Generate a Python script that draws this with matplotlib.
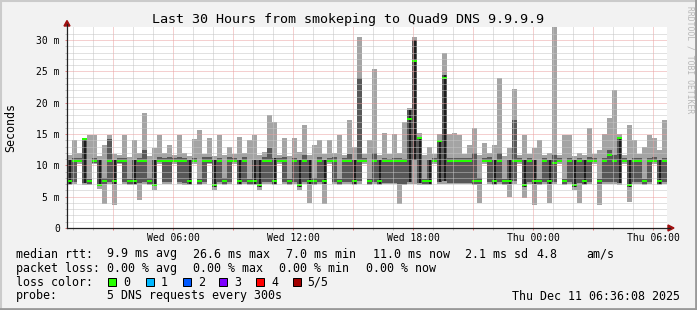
import numpy as np
import matplotlib
matplotlib.use("Agg")
import matplotlib.pyplot as plt
from matplotlib.patches import Rectangle, Polygon
from matplotlib.lines import Line2D

W, H = 697, 310
MONO = "DejaVu Sans Mono"

# time axis in hours since Wed 00:00, 15 min steps (30 h window)
t_start = 0.68
step_h = 0.25

# smoke: sorted dns rtt per step (ms)
ping_min = [6.9, 7.0, 10.2, 6.9, 6.9, 10.2, 6.2, 3.8, 7.0, 3.7, 10.2, 7.0,
            6.9, 6.9, 4.5, 7.0, 6.9, 6.1, 10.2, 7.0, 7.0, 10.3, 7.0, 6.9,
            6.9, 10.2, 6.9, 7.0, 10.2, 6.1, 7.0, 6.9, 7.0, 10.2, 6.9, 7.0,
            6.9, 6.9, 6.1, 7.0, 7.0, 6.9, 10.2, 7.0, 6.9, 7.0, 6.0, 7.0,
            4.0, 6.9, 7.0, 3.8, 10.2, 7.0, 6.9, 7.0, 7.0, 6.9, 7.0, 10.2,
            6.9, 7.0, 6.9, 7.0, 7.0, 7.0, 3.8, 6.9, 7.0, 7.0, 6.9, 6.9,
            6.9, 10.2, 7.0, 7.0, 7.0, 7.0, 7.0, 7.0, 7.0, 6.9, 4.0, 10.2,
            7.0, 6.9, 7.0, 6.9, 5.0, 7.0, 10.2, 4.8, 7.0, 3.7, 6.9, 7.0,
            4.0, 7.0, 10.2, 6.9, 7.0, 6.0, 4.0, 6.9, 7.0, 10.2, 3.7, 7.0,
            7.0, 7.0, 6.9, 10.2, 4.2, 7.0, 7.0, 6.9, 7.0, 10.2, 6.9, 7.0]
ping_p2 = [7.0, 7.3, 10.5, 7.2, 7.0, 10.4, 6.7, 7.0, 7.3, 7.0, 10.4, 7.3,
           7.0, 7.0, 7.2, 7.4, 7.0, 6.7, 10.5, 7.3, 7.3, 10.5, 7.3, 7.2,
           7.0, 10.5, 7.0, 7.3, 10.4, 6.6, 7.3, 7.0, 7.3, 10.5, 7.0, 7.3,
           7.0, 7.0, 6.6, 7.3, 7.4, 7.0, 10.5, 7.3, 7.0, 7.3, 6.6, 7.4,
           7.0, 7.0, 7.3, 7.0, 10.5, 7.3, 7.0, 7.3, 7.4, 7.0, 7.5, 10.5,
           7.0, 7.4, 7.0, 7.2, 7.2, 7.2, 7.0, 7.0, 7.4, 10.8, 7.2, 7.0,
           7.0, 10.5, 7.3, 7.5, 7.2, 7.2, 7.2, 7.2, 7.2, 7.0, 7.0, 10.5,
           7.3, 7.0, 7.4, 7.0, 7.0, 7.5, 10.5, 6.6, 7.3, 7.0, 7.0, 7.3,
           7.0, 7.4, 10.5, 7.0, 7.3, 6.6, 7.2, 7.0, 7.3, 10.5, 7.0, 7.3,
           7.4, 7.4, 7.2, 10.5, 6.6, 7.3, 7.3, 7.0, 7.3, 10.5, 7.0, 7.3]
ping_med = [7.5, 10.7, 10.7, 14.2, 7.5, 10.7, 6.9, 7.5, 10.7, 7.5, 10.7, 10.7,
            7.5, 7.5, 10.7, 10.7, 7.5, 6.9, 10.7, 10.7, 10.7, 10.7, 10.7, 10.7,
            7.5, 10.7, 7.5, 10.7, 10.7, 6.9, 10.7, 7.5, 10.7, 10.7, 7.5, 10.7,
            7.5, 7.5, 6.9, 10.7, 10.7, 7.5, 10.7, 10.7, 7.5, 10.7, 6.9, 10.7,
            7.5, 7.5, 10.7, 7.5, 10.7, 10.7, 7.5, 10.7, 10.7, 7.5, 10.7, 10.7,
            7.5, 10.7, 7.5, 10.7, 10.7, 10.7, 10.7, 10.7, 17.4, 26.6, 14.3, 7.5,
            7.5, 10.7, 13.9, 24.0, 10.7, 10.7, 10.7, 10.7, 10.7, 7.5, 7.5, 10.7,
            10.7, 7.5, 10.7, 7.5, 7.5, 10.7, 10.7, 6.9, 10.7, 7.5, 7.5, 10.7,
            7.5, 10.4, 10.7, 7.5, 10.7, 6.9, 10.7, 7.5, 10.7, 10.7, 7.5, 10.7,
            11.6, 10.7, 14.3, 10.7, 6.9, 10.7, 10.7, 7.5, 10.7, 10.7, 7.5, 10.7]
ping_p4 = [10.8, 11.2, 11.2, 14.3, 7.9, 11.2, 10.8, 8.0, 14.2, 10.8, 11.2, 11.2,
           7.9, 10.8, 11.2, 12.5, 8.0, 10.8, 11.4, 11.2, 11.3, 11.2, 11.4, 11.2,
           10.8, 11.2, 7.9, 11.3, 11.3, 10.8, 11.2, 8.0, 11.3, 11.2, 10.8, 11.4,
           7.9, 10.9, 10.8, 11.3, 12.8, 11.2, 11.2, 11.4, 7.9, 11.2, 10.8, 11.6,
           10.8, 8.0, 11.3, 10.8, 11.2, 11.4, 7.9, 11.2, 11.8, 10.9, 24.0, 11.2,
           7.9, 12.0, 10.8, 11.2, 11.0, 11.2, 11.2, 11.0, 18.8, 30.0, 14.5, 7.9,
           10.8, 11.2, 14.0, 24.5, 11.2, 11.2, 11.2, 11.2, 11.2, 12.0, 8.0, 11.2,
           11.3, 10.8, 12.0, 7.9, 10.8, 17.2, 11.2, 10.8, 11.2, 10.8, 7.9, 11.2,
           10.8, 11.6, 11.2, 7.9, 11.2, 10.8, 11.2, 10.8, 11.4, 11.2, 7.9, 11.2,
           12.5, 11.6, 14.4, 11.2, 10.8, 11.2, 11.2, 7.9, 11.2, 11.3, 10.8, 11.2]
ping_max = [11.6, 14.0, 12.0, 14.4, 14.8, 14.9, 11.5, 13.3, 14.8, 11.8, 11.6, 14.8,
            11.4, 14.0, 12.0, 18.3, 11.5, 12.8, 14.8, 11.9, 13.3, 11.6, 14.9, 12.0,
            11.5, 14.2, 15.6, 11.8, 14.3, 11.5, 14.8, 11.6, 13.0, 11.8, 14.5, 12.0,
            14.0, 14.8, 11.6, 12.2, 18.0, 17.0, 11.6, 14.3, 11.5, 14.4, 12.2, 16.4,
            11.6, 13.2, 14.1, 11.8, 14.0, 11.9, 14.8, 11.6, 17.2, 13.0, 30.5, 11.8,
            14.0, 25.4, 11.6, 15.1, 11.8, 15.0, 12.0, 16.9, 19.2, 30.5, 15.2, 11.6,
            13.0, 11.8, 15.0, 28.0, 15.0, 15.2, 14.8, 11.8, 13.2, 15.9, 11.6, 13.6,
            11.9, 13.2, 24.0, 11.5, 12.8, 22.2, 11.7, 14.9, 11.8, 12.8, 14.0, 11.6,
            12.0, 32.1, 11.7, 14.8, 14.8, 11.5, 12.0, 11.6, 16.0, 11.8, 12.4, 15.0,
            17.5, 22.0, 15.0, 11.6, 16.5, 14.0, 11.8, 13.0, 14.8, 14.3, 12.4, 17.2]
# steps where the inner smoke shows as a thin near-black column
black_steps = [0, 3, 6, 9, 13, 17, 24, 29, 34, 37, 38, 41, 46, 48, 51, 57, 62,
               68, 69, 70, 72, 74, 75, 85, 88, 91, 93, 96, 101, 103, 110, 112, 118]

x_label_hours = [6, 12, 18, 24, 30]
x_labels = ["Wed 06:00", "Wed 12:00", "Wed 18:00", "Thu 00:00", "Thu 06:00"]
y_ticks = [0, 5, 10, 15, 20, 25, 30]
y_labels = ["0", "5 m", "10 m", "15 m", "20 m", "25 m", "30 m"]

loss_names = ["0", "1", "2", "3", "4", "5/5"]
loss_colors = ["#26ff00", "#00b8ff", "#0059ff", "#7e00ff", "#ff0000", "#a10000"]


def fx(x):
    return x / W


def fy(y):
    return 1 - y / H


fig = plt.figure(figsize=(W / 100, H / 100), dpi=100, facecolor="#f2f2f2")
ax = fig.add_axes([fx(67), fy(228), 600 / W, 201 / H])
ax.set_facecolor("white")

lo = np.array(ping_min)
p2 = np.array(ping_p2)
med = np.array(ping_med)
p4 = np.array(ping_p4)
hi = np.array(ping_max)
t = t_start + step_h * np.arange(len(med))
bk = np.array(black_steps)

ax.bar(t, hi - lo, bottom=lo, width=step_h, align="edge", color="#a4a4a4",
       linewidth=0, antialiased=False, zorder=1.1)
ax.bar(t, p4 - p2, bottom=p2, width=step_h, align="edge", color="#585858",
       linewidth=0, antialiased=False, zorder=1.2)
ax.bar(t[bk] + 0.08, (p4 - p2)[bk], bottom=p2[bk], width=0.1, align="edge",
       color="#1c1c1c", linewidth=0, antialiased=False, zorder=1.3)
ax.bar(t, 0.32, bottom=med - 0.16, width=step_h, align="edge", color=loss_colors[0],
       linewidth=0, antialiased=False, zorder=1.4)

ax.set_xlim(t_start, t_start + step_h * len(med))
ax.set_ylim(0, 32.1)

maj = np.arange(3, 31, 3)
ax.set_xticks(maj)
ax.set_xticklabels([x_labels[x_label_hours.index(h)] if h in x_label_hours else "" for h in maj])
ax.set_xticks(np.arange(1, 31, 1), minor=True)
ax.set_yticks(y_ticks)
ax.set_yticklabels(y_labels)
ax.set_yticks(np.arange(1, 32, 1), minor=True)

ax.set_axisbelow(False)
ax.grid(which="minor", color="#c4c4c4", linestyle=(0, (1, 1)),
        linewidth=0.72, snap=True)
ax.grid(which="major", color="#eba0a0", linestyle=(0, (1, 1)),
        linewidth=0.72, snap=True)
ax.tick_params(which="major", direction="out", length=1.6, width=0.72,
               color=(0.9, 0.5, 0.5), labelsize=7, pad=2)
ax.tick_params(which="minor", direction="out", length=1.6, width=0.72,
               color=(0.75, 0.75, 0.75))
ax.tick_params(axis="y", which="major", pad=3.5)
for lab in ax.get_xticklabels() + ax.get_yticklabels():
    lab.set_fontfamily(MONO)
for s in ax.spines.values():
    s.set_visible(False)

# axes with arrows
axis_col = "#212121"
arrow_col = "#a01010"
fig.add_artist(Line2D([fx(67), fx(670)], [fy(228), fy(228)], color=axis_col, lw=0.9))
fig.add_artist(Line2D([fx(67), fx(67)], [fy(228), fy(24)], color=axis_col, lw=0.9))
fig.add_artist(Polygon([(fx(668), fy(225)), (fx(674), fy(228)), (fx(668), fy(231))],
                       closed=True, color=arrow_col, transform=fig.transFigure))
fig.add_artist(Polygon([(fx(64), fy(26)), (fx(67), fy(20.5)), (fx(70), fy(26))],
                       closed=True, color=arrow_col, transform=fig.transFigure))

# frame shading
fig.add_artist(Line2D([0, 1], [fy(0.5), fy(0.5)], color="#cbcbcb", lw=1.5))
fig.add_artist(Line2D([fx(0.5), fx(0.5)], [0, 1], color="#cbcbcb", lw=1.5))
fig.add_artist(Line2D([0, 1], [fy(309), fy(309)], color="#999999", lw=2))
fig.add_artist(Line2D([fx(696), fx(696)], [0, 1], color="#999999", lw=2))

fig.text(0.5, fy(19), "Last 30 Hours from smokeping to Quad9 DNS 9.9.9.9",
         ha="center", va="center", fontsize=9.6, family=MONO)
fig.text(fx(11), fy(127), "Seconds", rotation=90, ha="center", va="center",
         fontsize=8.4, family=MONO)
fig.text(fx(690), fy(60), "RRDTOOL / TOBI OETIKER", rotation=270, ha="center",
         va="center", fontsize=5.8, family=MONO, color="#b8b8b8")

fs = 8.4
rows = [
    (254, [(16, "median rtt:"), (107.3, "9.9 ms avg"), (193.3, "26.6 ms max"),
           (286, "7.0 ms min"), (372.7, "11.0 ms now"), (465, "2.1 ms sd"),
           (536.7, "4.8"), (586.7, "am/s")]),
    (268.3, [(16, "packet loss:"), (107.3, "0.00 % avg"), (193.3, "0.00 % max"),
             (279.3, "0.00 % min"), (366, "0.00 % now")]),
    (282.3, [(16, "loss color:")]),
    (296, [(16, "probe:"), (107.3, "5 DNS requests every 300s")]),
]
for yy, items in rows:
    for xx, s in items:
        fig.text(fx(xx), fy(yy), s, ha="left", va="center", fontsize=fs, family=MONO)

box_x = [108.3, 145.7, 182.7, 219.3, 256, 292.7]
for bx, name, col in zip(box_x, loss_names, loss_colors):
    fig.add_artist(Rectangle((fx(bx), fy(286)), 8 / W, 8 / H, transform=fig.transFigure,
                             facecolor=col, edgecolor="black", lw=0.72))
    fig.text(fx(bx + 15), fy(282.3), name, ha="left", va="center", fontsize=fs, family=MONO)

fig.text(fx(680), fy(296), "Thu Dec 11 06:36:08 2025", ha="right", va="center",
         fontsize=fs, family=MONO)

fig.savefig("out.png", dpi=100, facecolor=fig.get_facecolor())
